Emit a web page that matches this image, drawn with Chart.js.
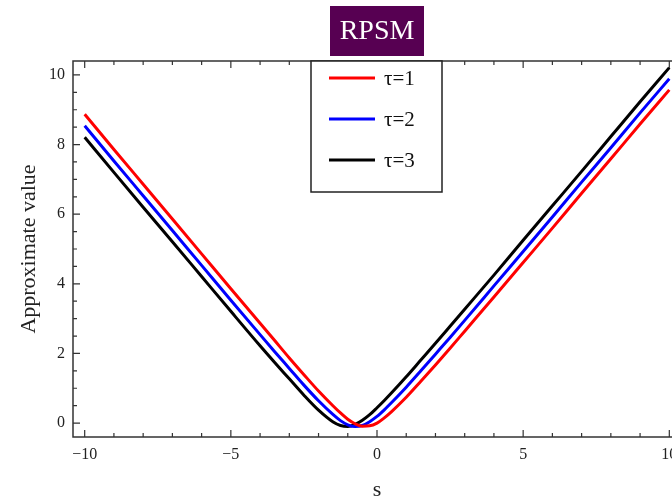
<!DOCTYPE html>
<html>
<head>
<meta charset="utf-8">
<script src="https://cdn.jsdelivr.net/npm/chart.js@4.4.1/dist/chart.umd.min.js"></script>
<style>
  html, body { margin: 0; padding: 0; background: #fff; overflow: hidden; }
  #wrap { width: 690px; height: 501px; position: relative; }
</style>
</head>
<body>
<div id="wrap"><canvas id="grafico"></canvas></div>
<script>
// valores (s -> valor aproximado)
var sValues = [-10, -9, -8, -7, -6, -5, -4, -3.5, -3, -2.5, -2, -1.5, -1.25, -1, -0.75, -0.5,
  -0.25, 0, 0.25, 0.5, 1, 1.5, 2, 2.5, 3, 4, 5, 6, 7, 8, 9, 10];

var tau1 = [8.87, 7.86, 6.86, 5.86, 4.86, 3.86, 2.87, 2.37, 1.87, 1.39, 0.92, 0.49, 0.29, 0.11, -0.02, -0.09,
  -0.08, 0.00, 0.15, 0.33, 0.74, 1.20, 1.67, 2.15, 2.64, 3.62, 4.61, 5.60, 6.60, 7.59, 8.59, 9.57];

var tau2 = [8.54, 7.53, 6.53, 5.53, 4.53, 3.53, 2.54, 2.05, 1.57, 1.09, 0.64, 0.24, 0.07, -0.05, -0.10, -0.07,
  0.04, 0.19, 0.38, 0.59, 1.03, 1.50, 1.98, 2.46, 2.95, 3.94, 4.93, 5.92, 6.92, 7.91, 8.91, 9.89];

var tau3 = [8.21, 7.20, 6.20, 5.21, 4.21, 3.21, 2.22, 1.74, 1.27, 0.80, 0.37, 0.03, -0.07, -0.10, -0.04, 0.08,
  0.24, 0.44, 0.65, 0.87, 1.33, 1.81, 2.29, 2.78, 3.27, 4.25, 5.25, 6.24, 7.23, 8.23, 9.23, 10.21];

var seriesLabels = ["\u03c4=1", "\u03c4=2", "\u03c4=3"];
var seriesColors = ["#ff0000", "#0000ff", "#000000"];
var xTicks = [-10, -5, 0, 5, 10];
var yTicks = [0, 2, 4, 6, 8, 10];

var serif = "'Liberation Serif', 'DejaVu Serif', serif";

function pontos(arr) {
  return sValues.map(function(s, i) { return { x: s, y: arr[i] }; });
}

// caixa do titulo (RPSM)
var titleBox = {
  id: 'titleBox',
  afterDraw: function(chart) {
    var ctx = chart.ctx;
    var cx = chart.scales.x.getPixelForValue(0);
    ctx.save();
    ctx.fillStyle = '#570052';
    ctx.fillRect(cx - 47, 6, 94, 50);
    ctx.fillStyle = '#ffffff';
    ctx.font = "28px " + serif;
    ctx.textAlign = 'center';
    ctx.textBaseline = 'middle';
    ctx.fillText('RPSM', cx, 32);
    ctx.restore();
  }
};

// moldura com ticks para dentro (estilo Mathematica)
var frameTicks = {
  id: 'frameTicks',
  afterDatasetsDraw: function(chart) {
    var ctx = chart.ctx;
    var a = chart.chartArea;
    var sx = chart.scales.x, sy = chart.scales.y;
    ctx.save();
    ctx.strokeStyle = '#333333';
    ctx.lineWidth = 1.5;
    ctx.strokeRect(a.left, a.top, a.right - a.left, a.bottom - a.top);
    ctx.lineWidth = 1.2;
    ctx.beginPath();
    for (var v = -10; v <= 10; v++) {
      var px = sx.getPixelForValue(v);
      var len = (v % 5 === 0) ? 7 : 4;
      ctx.moveTo(px, a.bottom); ctx.lineTo(px, a.bottom - len);
      ctx.moveTo(px, a.top); ctx.lineTo(px, a.top + len);
    }
    for (var w = 0; w <= 10; w += 0.5) {
      var py = sy.getPixelForValue(w);
      var l2 = (w % 2 === 0) ? 7 : 4;
      ctx.moveTo(a.left, py); ctx.lineTo(a.left + l2, py);
      ctx.moveTo(a.right, py); ctx.lineTo(a.right - l2, py);
    }
    ctx.stroke();
    ctx.restore();
  }
};

// legenda desenhada dentro do grafico
var legendaBox = {
  id: 'legendaBox',
  afterDraw: function(chart) {
    var ctx = chart.ctx;
    var x0 = 311, y0 = chart.chartArea.top, w = 131, h = 131;
    ctx.save();
    ctx.fillStyle = '#ffffff';
    ctx.fillRect(x0, y0, w, h);
    ctx.strokeStyle = '#222222';
    ctx.lineWidth = 1.5;
    ctx.strokeRect(x0, y0, w, h);
    chart.data.datasets.forEach(function(ds, i) {
      var y = y0 + 17 + i * 41;
      ctx.strokeStyle = ds.borderColor;
      ctx.lineWidth = 3;
      ctx.beginPath();
      ctx.moveTo(329, y); ctx.lineTo(375, y);
      ctx.stroke();
      ctx.fillStyle = '#111111';
      ctx.font = "21px " + serif;
      ctx.textBaseline = 'middle';
      ctx.fillText(ds.label, 384, y + 1);
    });
    ctx.restore();
  }
};

var config = {
  type: 'line',
  data: {
    datasets: seriesLabels.map(function(lab, i) {
      return {
        label: lab,
        data: pontos([tau1, tau2, tau3][i]),
        borderColor: seriesColors[i],
        borderWidth: 3,
        pointRadius: 0,
        cubicInterpolationMode: 'monotone',
        fill: false
      };
    })
  },
  options: {
    responsive: true,
    maintainAspectRatio: false,
    animation: false,
    events: [],
    layout: { padding: { top: 61, right: 9, left: 0, bottom: 0 } },
    plugins: {
      legend: { display: false },
      title: { display: false },
      tooltip: { enabled: false }
    },
    scales: {
      x: {
        type: 'linear',
        min: -10.4,
        max: 10.4,
        grid: { display: false, drawTicks: false },
        border: { display: false },
        afterBuildTicks: function(scale) {
          scale.ticks = xTicks.map(function(v) { return { value: v }; });
        },
        afterFit: function(scale) { scale.height = 64; },
        ticks: {
          padding: 8,
          color: '#222',
          font: { family: serif, size: 16 },
          maxRotation: 0,
          callback: function(v) { return String(v).replace('-', '\u2212'); }
        },
        title: {
          display: true,
          text: 's',
          color: '#222',
          font: { family: serif, size: 22, lineHeight: 1 },
          padding: { top: 0, bottom: 0 }
        }
      },
      y: {
        min: -0.4,
        max: 10.4,
        grid: { display: false, drawTicks: false },
        border: { display: false },
        afterBuildTicks: function(scale) {
          scale.ticks = yTicks.map(function(v) { return { value: v }; });
        },
        afterFit: function(scale) { scale.width = 73; },
        ticks: {
          padding: 8,
          color: '#222',
          font: { family: serif, size: 16 }
        },
        title: {
          display: true,
          text: 'Approximate value',
          color: '#222',
          font: { family: serif, size: 22 },
          padding: { top: 16, bottom: 0 }
        }
      }
    }
  },
  plugins: [frameTicks, legendaBox, titleBox]
};

window.onload = function() {
  var ctx = document.getElementById("grafico").getContext("2d");
  window.meuGrafico = new Chart(ctx, config);
};
</script>
</body>
</html>
